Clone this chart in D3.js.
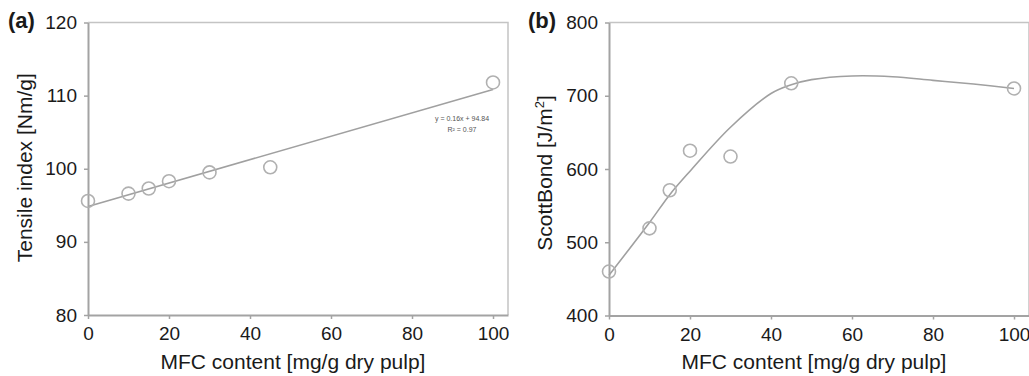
<!DOCTYPE html>
<html>
<head>
<meta charset="utf-8">
<script src="https://cdn.jsdelivr.net/npm/d3@7"></script>
<style>
  html, body { margin: 0; padding: 0; background: #fff; }
  svg { display: block; font-family: "Liberation Sans", Arial, sans-serif; }
</style>
</head>
<body>
<svg id="chart" width="1029" height="376"></svg>
<script>
// MFC content of the sheets (mg/g dry pulp)
const mfcTensile = [0, 10, 15, 20, 30, 45, 100];
const tensileIndex = [95.6, 96.6, 97.3, 98.3, 99.5, 100.2, 111.8];

// Linear fit y = 0.16x + 94.84
const fitSlope = 0.16;
const fitIntercept = 94.84;
const fitLabel = ["y = 0.16x + 94.84", "R\u00B2 = 0.97"];

const mfcScott = [0, 10, 15, 20, 30, 45, 100];
const scottBond = [460, 519, 571, 625, 617, 717, 710];

// Smoothed trend through the Scott Bond data
const trendX = [0, 10, 15, 20, 30, 40, 45, 50, 60, 70, 80, 90, 100];
const trendY = [455, 527, 565, 597, 657, 703, 715, 722, 727, 726, 721, 716, 710];

const xTicks = [0, 20, 40, 60, 80, 100];
const tensileTicks = [80, 90, 100, 110, 120];
const scottTicks = [400, 500, 600, 700, 800];

const svg = d3.select("#chart");
const axisColor = "#a3a3a3";
const markColor = "#a0a0a0";
const textColor = "#1a1a1a";

function panel(opts) {
  const g = svg.append("g");
  const x = d3.scaleLinear().domain(opts.xDomain).range([opts.left, opts.right]);
  const y = d3.scaleLinear().domain(opts.yDomain).range([opts.bottom, opts.top]);

  // frame (top and right edges)
  g.append("path")
    .attr("d", `M${opts.left},${opts.top}H${opts.right}V${opts.bottom}`)
    .attr("fill", "none").attr("stroke", "#c4c4c4").attr("stroke-width", 1.5);

  const xAxis = g.append("g")
    .attr("transform", `translate(0,${opts.bottom})`)
    .call(d3.axisBottom(x).tickValues(xTicks).tickSize(4).tickPadding(8).tickSizeOuter(0));
  const yAxis = g.append("g")
    .attr("transform", `translate(${opts.left},0)`)
    .call(d3.axisLeft(y).tickValues(opts.yTicks).tickSize(4).tickPadding(7).tickSizeOuter(0));

  [xAxis, yAxis].forEach(a => {
    a.select(".domain").attr("stroke", axisColor).attr("stroke-width", 2);
    a.selectAll(".tick line").attr("stroke", axisColor).attr("stroke-width", 1.5);
    a.selectAll(".tick text")
      .attr("fill", textColor)
      .style("font-size", "19px")
      .style("font-family", "'Liberation Sans', Arial, sans-serif");
  });

  // x-axis title
  g.append("text")
    .attr("x", (opts.left + opts.right) / 2 - 5)
    .attr("y", 369)
    .attr("text-anchor", "middle")
    .attr("fill", textColor)
    .style("font-size", "21px")
    .text("MFC content [mg/g dry pulp]");

  // panel letter
  g.append("text")
    .attr("x", opts.letterX)
    .attr("y", 28)
    .attr("fill", textColor)
    .style("font-size", "22px")
    .style("font-weight", "bold")
    .text(opts.letter);

  return { g, x, y };
}

// ---- (a) Tensile index ----
const A = panel({
  left: 88, right: 508, top: 22.5, bottom: 315,
  xDomain: [0, 103.7], yDomain: [80, 120], yTicks: tensileTicks,
  letter: "(a)", letterX: 8
});

A.g.append("text")
  .attr("transform", `translate(32,${(22.5 + 315) / 2 - 1}) rotate(-90)`)
  .attr("text-anchor", "middle")
  .attr("fill", textColor)
  .style("font-size", "21px")
  .text("Tensile index [Nm/g]");

A.g.append("line")
  .attr("x1", A.x(0)).attr("y1", A.y(fitIntercept))
  .attr("x2", A.x(100)).attr("y2", A.y(fitIntercept + fitSlope * 100))
  .attr("stroke", markColor).attr("stroke-width", 1.6);

A.g.selectAll("circle.pt")
  .data(mfcTensile.map((m, i) => [m, tensileIndex[i]]))
  .join("circle")
  .attr("class", "pt")
  .attr("cx", d => A.x(d[0])).attr("cy", d => A.y(d[1]))
  .attr("r", 6.5)
  .attr("fill", "none").attr("stroke", "#b0b0b0").attr("stroke-width", 1.6);

A.g.selectAll("text.fit")
  .data(fitLabel)
  .join("text")
  .attr("class", "fit")
  .attr("x", 462).attr("y", (d, i) => 121 + i * 11)
  .attr("text-anchor", "middle")
  .attr("fill", "#555")
  .style("font-size", "7px")
  .text(d => d);

// ---- (b) Scott Bond ----
const B = panel({
  left: 609, right: 1029, top: 22.5, bottom: 315.5,
  xDomain: [0, 103.7], yDomain: [400, 800], yTicks: scottTicks,
  letter: "(b)", letterX: 528
});

const yTitle = B.g.append("text")
  .attr("transform", `translate(552,${(22.5 + 315.5) / 2 + 4}) rotate(-90)`)
  .attr("text-anchor", "middle")
  .attr("fill", textColor)
  .style("font-size", "21px");
yTitle.append("tspan").text("ScottBond [J/m");
yTitle.append("tspan").attr("dy", -8).style("font-size", "13px").text("2");
yTitle.append("tspan").attr("dy", 8).text("]");

B.g.append("path")
  .datum(trendX.map((m, i) => [m, trendY[i]]))
  .attr("d", d3.line().x(d => B.x(d[0])).y(d => B.y(d[1])).curve(d3.curveCatmullRom))
  .attr("fill", "none").attr("stroke", markColor).attr("stroke-width", 1.6);

B.g.selectAll("circle.pt")
  .data(mfcScott.map((m, i) => [m, scottBond[i]]))
  .join("circle")
  .attr("class", "pt")
  .attr("cx", d => B.x(d[0])).attr("cy", d => B.y(d[1]))
  .attr("r", 6.5)
  .attr("fill", "none").attr("stroke", "#b0b0b0").attr("stroke-width", 1.6);
</script>
</body>
</html>
